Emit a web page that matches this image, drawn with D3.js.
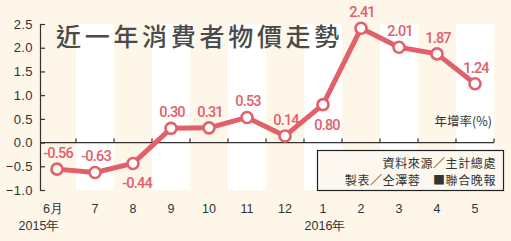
<!DOCTYPE html>
<html>
<head>
<meta charset="utf-8">
<script src="https://cdn.jsdelivr.net/npm/d3@7"></script>
<style>
  body { margin: 0; background: #fdf6e9; }
  svg { display: block; }
</style>
</head>
<body>
<svg width="511" height="241"></svg>
<script>
// data
const months = ['6月', '7', '8', '9', '10', '11', '12', '1', '2', '3', '4', '5'];
const rates = [-0.56, -0.63, -0.44, 0.30, 0.31, 0.53, 0.14, 0.80, 2.41, 2.01, 1.87, 1.24];
const labelSide = ['up', 'up', 'down', 'up', 'up', 'up', 'up', 'down', 'up', 'up', 'up', 'up'];
const yTicks = [-1.0, -0.5, 0.0, 0.5, 1.0, 1.5, 2.0, 2.5];
const years = [{ at: '6月', text: '2015年' }, { at: '1', text: '2016年' }];

const width = 511;
const height = 241;
const red = '#e2606a';
const ink = '#333';
const svg = d3.select('svg');

const x = d3.scaleBand()
    .domain(months)
    .range([38, 494])
    .padding(0);

const y = d3.scaleLinear()
    .domain([-1, 2.5])
    .range([190, 24]);

// background
svg.append('rect')
    .attr('width', width)
    .attr('height', height)
    .attr('fill', '#fdf6e9');

// white stripes every other month
svg.append('g')
    .selectAll('rect')
    .data(months.filter((d, i) => i % 2 === 1))
    .enter().append('rect')
    .attr('x', d => x(d))
    .attr('y', y(2.5))
    .attr('width', x.bandwidth())
    .attr('height', y(-1) - y(2.5))
    .attr('fill', '#ffffff');

// title
svg.append('text')
    .attr('x', 56)
    .attr('y', 46)
    .attr('font-family', '"Noto Sans CJK TC", sans-serif')
    .attr('font-size', 25)
    .attr('font-weight', 500)
    .attr('letter-spacing', 3.7)
    .attr('fill', '#4a4a4a')
    .text('近一年消費者物價走勢');

// y axis
const yAxis = g => g
    .attr('transform', 'translate(40,0)')
    .call(d3.axisLeft(y)
        .tickValues(yTicks)
        .tickFormat(d3.format('.1f'))
        .tickSizeInner(-5)
        .tickSizeOuter(-5)
        .tickPadding(7))
    .call(g => g.selectAll('path, line').attr('stroke', ink).attr('stroke-width', 1.2))
    .call(g => g.selectAll('text')
        .attr('fill', ink)
        .attr('font-size', 13)
        .attr('letter-spacing', 0.4)
        .attr('font-family', '"Liberation Sans", Arial, sans-serif'));

svg.append('g').call(yAxis);

// zero line with upward ticks at band edges
const gx = svg.append('g').attr('stroke', ink).attr('stroke-width', 1.2);
gx.append('line')
    .attr('x1', 40)
    .attr('x2', x.range()[1])
    .attr('y1', y(0))
    .attr('y2', y(0));
gx.selectAll('.tk')
    .data(months)
    .enter().append('line')
    .attr('class', 'tk')
    .attr('x1', d => x(d) + x.bandwidth())
    .attr('x2', d => x(d) + x.bandwidth())
    .attr('y1', y(0))
    .attr('y2', y(0) - 4);

// month labels
svg.append('g')
    .selectAll('text')
    .data(months)
    .enter().append('text')
    .attr('x', (d, i) => x(d) + x.bandwidth() / 2 - (i === 0 ? 4 : 0))
    .attr('y', 213)
    .attr('text-anchor', 'middle')
    .attr('font-family', '"Liberation Sans", Arial, sans-serif')
    .attr('font-size', 12.5)
    .attr('fill', ink)
    .text(d => d);

svg.append('g')
    .selectAll('text')
    .data(years)
    .enter().append('text')
    .attr('x', (d, i) => x(d.at) + x.bandwidth() / 2 + (i === 0 ? -18 : 2))
    .attr('y', 230)
    .attr('text-anchor', 'middle')
    .attr('font-family', '"Liberation Sans", Arial, sans-serif')
    .attr('font-size', 12.5)
    .attr('fill', ink)
    .text(d => d.text);

// unit
svg.append('text')
    .attr('x', 492)
    .attr('y', 126)
    .attr('text-anchor', 'end')
    .attr('font-family', '"Noto Sans CJK TC", sans-serif')
    .attr('font-size', 12.5)
    .attr('fill', ink)
    .text('年增率(%)');

// source box
const box = svg.append('g');
box.append('rect')
    .attr('x', 317.5)
    .attr('y', 150.5)
    .attr('width', 186)
    .attr('height', 40)
    .attr('fill', '#fdf8ef')
    .attr('stroke', '#222')
    .attr('stroke-width', 1.2);
box.append('text')
    .attr('x', 496)
    .attr('y', 167.5)
    .attr('text-anchor', 'end')
    .attr('font-family', '"Noto Sans CJK TC", sans-serif')
    .attr('font-size', 12)
    .attr('letter-spacing', 0.6)
    .attr('fill', ink)
    .text('資料來源／主計總處');
box.append('text')
    .attr('x', 496)
    .attr('y', 185)
    .attr('text-anchor', 'end')
    .attr('font-family', '"Noto Sans CJK TC", sans-serif')
    .attr('font-size', 12)
    .attr('letter-spacing', 0.6)
    .attr('fill', ink)
    .attr('xml:space', 'preserve')
    .text('製表／仝澤蓉　■聯合晚報');

// line
const cx = (d, i) => x(months[i]) + x.bandwidth() / 2;
const line = d3.line()
    .x(cx)
    .y(d => y(d));

svg.append('path')
    .datum(rates)
    .attr('fill', 'none')
    .attr('stroke', red)
    .attr('stroke-width', 5)
    .attr('stroke-linejoin', 'round')
    .attr('d', line);

svg.append('g')
    .selectAll('circle')
    .data(rates)
    .enter().append('circle')
    .attr('cx', cx)
    .attr('cy', d => y(d))
    .attr('r', 5.5)
    .attr('fill', '#fff')
    .attr('stroke', red)
    .attr('stroke-width', 2.6);

// value labels
svg.append('g')
    .selectAll('text')
    .data(rates)
    .enter().append('text')
    .attr('x', (d, i) => cx(d, i) + (labelSide[i] === 'down' ? 4 : 1))
    .attr('y', (d, i) => y(d) + (labelSide[i] === 'down' ? 25 : -11))
    .attr('text-anchor', 'middle')
    .attr('font-family', 'Roboto, "Liberation Sans", sans-serif')
    .attr('font-size', 14.5)
    .attr('font-weight', 500)
    .attr('letter-spacing', -0.8)
    .attr('fill', red)
    .text(d => d.toFixed(2));
</script>
</body>
</html>
